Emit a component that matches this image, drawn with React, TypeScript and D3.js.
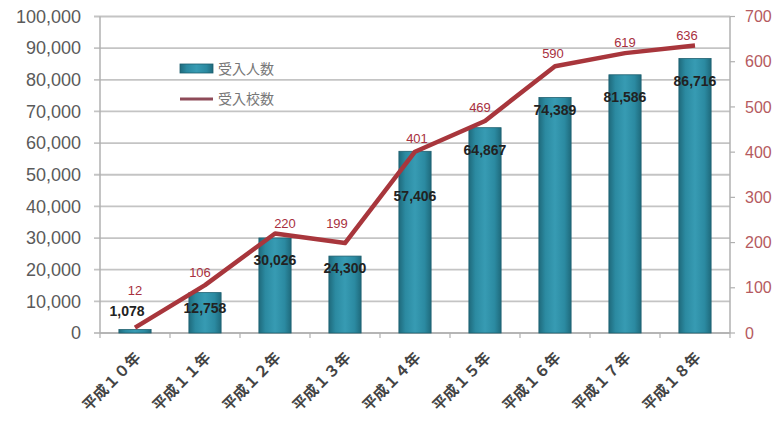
import React from "react";
import * as d3 from "d3";

const categories = ["平成１０年", "平成１１年", "平成１２年", "平成１３年", "平成１４年", "平成１５年", "平成１６年", "平成１７年", "平成１８年"];
const students = [1078, 12758, 30026, 24300, 57406, 64867, 74389, 81586, 86716];
const schools = [12, 106, 220, 199, 401, 469, 590, 619, 636];
const leftTicks = [0, 10000, 20000, 30000, 40000, 50000, 60000, 70000, 80000, 90000, 100000];
const rightTicks = [0, 100, 200, 300, 400, 500, 600, 700];
const seriesNames = ["受入人数", "受入校数"];

// label placement tweaks (presentation only)
const barLabelDy = [-18, 15, 22, 12, 45, 22, 13, 22, 23];
const barLabelDx = [-8, 0, 0, 0, 0, 0, 0, 0, 0];
const lineLabelDy = [-37, -13, -10, -20, -13, -13, -13, -11, -10];
const lineLabelDx = [0, -5, 10, -8, 2, -5, -2, 0, -8];

const W = 776, H = 421;
const left = 100, right = 730, top = 16.5, bottom = 333;

export default function App() {
  const x = d3.scaleBand<string>().domain(categories).range([left, right]).paddingInner(0).paddingOuter(0);
  const yL = d3.scaleLinear().domain([0, 100000]).range([bottom, top]);
  const yR = d3.scaleLinear().domain([0, 700]).range([bottom, top]);
  const fmt = d3.format(",");
  const bw = x.bandwidth() * 0.46;
  const cx = (c: string) => (x(c) as number) + x.bandwidth() / 2;
  const line = d3.line<number>().x((_, i) => cx(categories[i])).y((d) => yR(d));
  const font = "'Liberation Sans', Arial, sans-serif";
  const cjk = "'Noto Sans CJK JP', 'Noto Sans', sans-serif";
  const lineColor = "#a8363c";

  return (
    <svg width={W} height={H} style={{ position: "absolute", left: 0, top: 0, background: "#fff" }}>
      <defs>
        <linearGradient id="barGrad" x1="0" x2="1" y1="0" y2="0">
          <stop offset="0" stopColor="#1f6a7c" />
          <stop offset="0.2" stopColor="#2b8aa1" />
          <stop offset="0.5" stopColor="#379bb3" />
          <stop offset="0.8" stopColor="#2b8aa1" />
          <stop offset="1" stopColor="#1f6a7c" />
        </linearGradient>
      </defs>
      {leftTicks.map((t) => (
        <line key={t} x1={left - 6} x2={right} y1={yL(t)} y2={yL(t)} stroke="#c4c4c4" strokeWidth={1.8} />
      ))}
      <line x1={left} x2={left} y1={top} y2={bottom} stroke="#b0b0b0" strokeWidth={1.5} />
      <line x1={right} x2={right} y1={top} y2={bottom} stroke="#b0b0b0" strokeWidth={1.5} />
      <line x1={left} x2={right} y1={bottom} y2={bottom} stroke="#b0b0b0" strokeWidth={1.5} />
      {categories.map((c) => (
        <line key={c} x1={x(c) as number} x2={x(c) as number} y1={bottom} y2={bottom + 5} stroke="#b0b0b0" strokeWidth={1.2} />
      ))}
      <line x1={right} x2={right} y1={bottom} y2={bottom + 5} stroke="#b0b0b0" strokeWidth={1.2} />
      {rightTicks.map((t) => (
        <line key={t} x1={right} x2={right + 5} y1={yR(t)} y2={yR(t)} stroke="#b0b0b0" strokeWidth={1.2} />
      ))}
      {leftTicks.map((t) => (
        <text key={t} x={81} y={yL(t)} dy="0.35em" textAnchor="end" fontFamily={font} fontSize={18} fill="#5a5a5a">
          {fmt(t)}
        </text>
      ))}
      {rightTicks.map((t) => (
        <text key={t} x={745} y={yR(t)} dy="0.35em" textAnchor="start" fontFamily={font} fontSize={16} fill="#b55a60">
          {t}
        </text>
      ))}
      {students.map((v, i) => (
        <rect key={i} x={cx(categories[i]) - bw / 2} y={yL(v)} width={bw} height={bottom - yL(v)} fill="url(#barGrad)" stroke="#1d5f6f" strokeWidth={0.8} />
      ))}
      <path d={line(schools) as string} fill="none" stroke={lineColor} strokeWidth={4.5} strokeLinejoin="round" />
      {students.map((v, i) => (
        <text key={i} x={cx(categories[i]) + barLabelDx[i]} y={yL(v) + barLabelDy[i]} dy="0.35em" textAnchor="middle" fontFamily={font} fontSize={14} fontWeight="bold" fill="#222">
          {fmt(v)}
        </text>
      ))}
      {schools.map((v, i) => (
        <text key={i} x={cx(categories[i]) + lineLabelDx[i]} y={yR(v) + lineLabelDy[i]} dy="0.35em" textAnchor="middle" fontFamily={font} fontSize={13} fill="#a83040">
          {v}
        </text>
      ))}
      {categories.map((c) => (
        <text key={c} transform={`translate(${cx(c) + 3},${bottom + 22}) rotate(-45)`} textAnchor="end" dy="0.35em" fontFamily={cjk} fontSize={15} fontWeight="bold" fill="#444">
          {c}
        </text>
      ))}
      <rect x={180} y={64} width={33} height={9} fill="url(#barGrad)" stroke="#1d5f6f" strokeWidth={0.8} />
      <text x={218} y={69} dy="0.35em" fontFamily={cjk} fontSize={14} fill="#777">{seriesNames[0]}</text>
      <line x1={180} x2={213} y1={99} y2={99} stroke="#8e4a58" strokeWidth={3} />
      <text x={218} y={99} dy="0.35em" fontFamily={cjk} fontSize={14} fill="#777">{seriesNames[1]}</text>
    </svg>
  );
}
